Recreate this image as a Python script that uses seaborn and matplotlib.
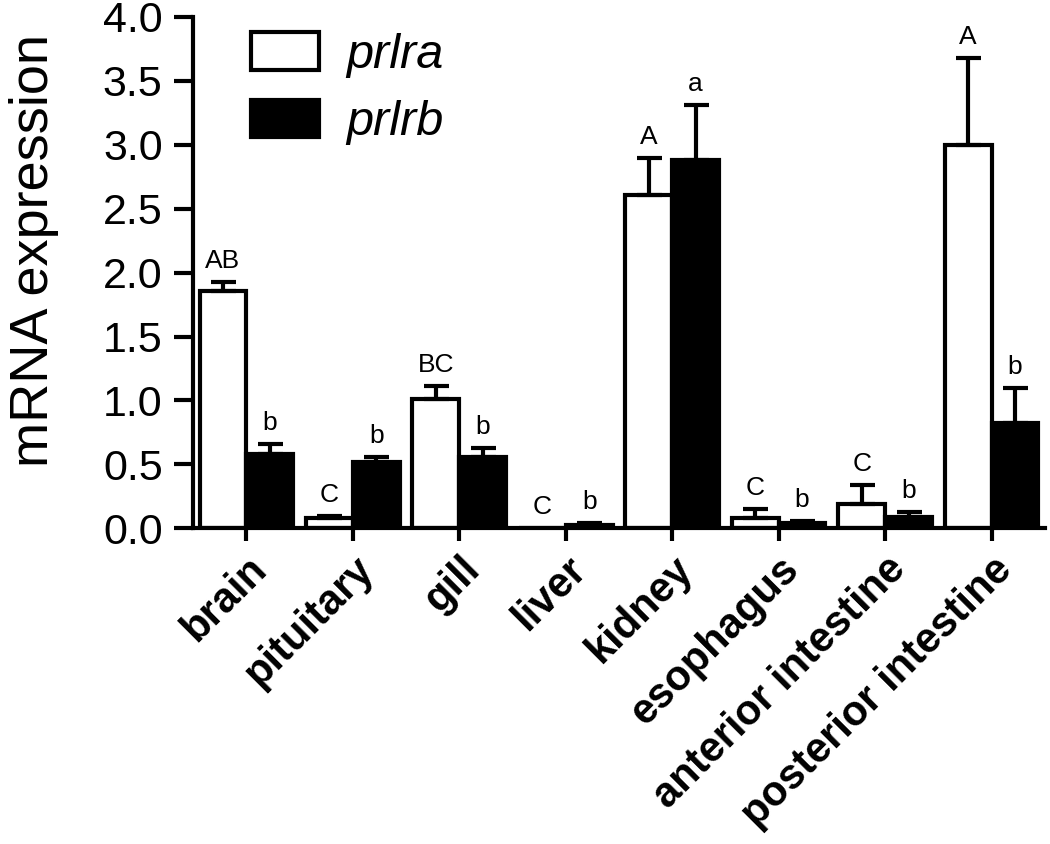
import matplotlib
matplotlib.use('Agg')
import matplotlib.pyplot as plt
import seaborn as sns
import pandas as pd

tissues = ['brain', 'pituitary', 'gill', 'liver', 'kidney', 'esophagus',
           'anterior intestine', 'posterior intestine']
prlra_mean = [1.86, 0.08, 1.01, 0.005, 2.61, 0.08, 0.19, 3.00]
prlra_err = [0.07, 0.02, 0.10, 0.0, 0.29, 0.07, 0.15, 0.68]
prlrb_mean = [0.58, 0.52, 0.56, 0.03, 2.88, 0.04, 0.09, 0.82]
prlrb_err = [0.08, 0.04, 0.07, 0.01, 0.43, 0.02, 0.04, 0.28]
prlra_letters = ['AB', 'C', 'BC', 'C', 'A', 'C', 'C', 'A']
prlrb_letters = ['b', 'b', 'b', 'b', 'a', 'b', 'b', 'b']

sns.set_style('ticks')
plt.rcParams['font.family'] = ['Liberation Sans', 'DejaVu Sans']
for k in ['text.color', 'axes.labelcolor', 'axes.edgecolor', 'xtick.color', 'ytick.color']:
    plt.rcParams[k] = 'black'

df = pd.DataFrame({
    'tissue': tissues * 2,
    'expr': prlra_mean + prlrb_mean,
    'gene': ['prlra'] * len(tissues) + ['prlrb'] * len(tissues),
})

fig = plt.figure(figsize=(10.5, 8.44), dpi=100)
ax = fig.add_axes([0.184, 0.374, 0.811, 0.606])

sns.barplot(data=df, x='tissue', y='expr', hue='gene', order=tissues,
            palette=['white', 'black'], edgecolor='black', linewidth=3,
            width=0.88, ax=ax)

bars = ax.patches[:2 * len(tissues)]
means = prlra_mean + prlrb_mean
errs = prlra_err + prlrb_err
letters = prlra_letters + prlrb_letters
for bar, m, e, lab in zip(bars, means, errs, letters):
    xc = bar.get_x() + bar.get_width() / 2
    if e > 0:
        ax.errorbar(xc, m, yerr=[[0], [e]], fmt='none', ecolor='black',
                    elinewidth=3, capsize=9, capthick=3, zorder=1)
    ax.text(xc, m + e + 0.07, lab, ha='center', va='bottom', fontsize=19)

ax.set_ylim(0, 4.0)
ax.set_xlim(-0.5, 7.5)
ax.set_yticks([0, 0.5, 1.0, 1.5, 2.0, 2.5, 3.0, 3.5, 4.0])
ax.set_yticklabels(['0.0', '0.5', '1.0', '1.5', '2.0', '2.5', '3.0', '3.5', '4.0'])
ax.tick_params(axis='y', labelsize=31, width=3, length=14, pad=8)
ax.tick_params(axis='x', labelsize=30, width=3, length=9, pad=6)
ax.set_xticks(range(len(tissues)))
ax.set_xticklabels(tissues, rotation=45, ha='right', va='top',
                   rotation_mode='anchor', fontweight='bold')
ax.set_xlabel('')
ax.set_ylabel('mRNA expression', fontsize=39)
ax.yaxis.set_label_coords(-0.158, 0.544)
for s in ['left', 'bottom']:
    ax.spines[s].set_linewidth(3)
sns.despine(ax=ax)

handles, _ = ax.get_legend_handles_labels()
leg = ax.legend(handles, ['prlra', 'prlrb'], loc='upper left',
                bbox_to_anchor=(0.017, 1.055), frameon=False,
                prop={'style': 'italic', 'size': 35},
                handlelength=1.4, handleheight=0.8, handletextpad=0.55,
                labelspacing=0.45)

fig.savefig('out.png', dpi=100)
